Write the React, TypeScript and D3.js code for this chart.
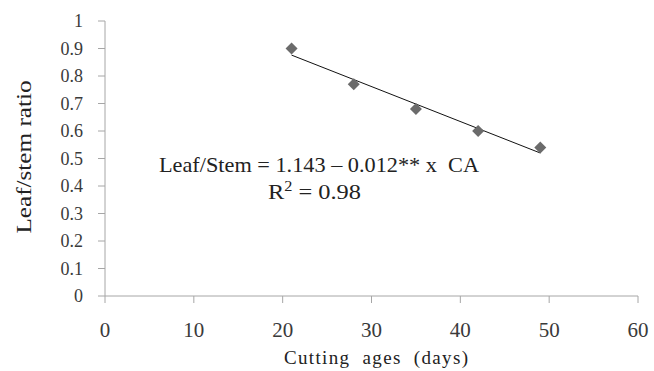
import React from "react";
import * as d3 from "d3";

const cuttingAges = [21, 28, 35, 42, 49];
const leafStemRatio = [0.9, 0.77, 0.68, 0.6, 0.54];
const xTicks = [0, 10, 20, 30, 40, 50, 60];
const yTicks = [0, 0.1, 0.2, 0.3, 0.4, 0.5, 0.6, 0.7, 0.8, 0.9, 1];
const yTickLabels = ["0", "0.1", "0.2", "0.3", "0.4", "0.5", "0.6", "0.7", "0.8", "0.9", "1"];
const xTitle = "Cutting  ages  (days)";
const yTitle = "Leaf/stem ratio";
const equationText = "Leaf/Stem = 1.143 \u2013 0.012** x  CA";
const r2Value = "0.98";

const W = 654;
const H = 371;
const FONT = "Liberation Serif";

export default function App() {
  const x = d3.scaleLinear().domain([0, 60]).range([105, 638]);
  const y = d3.scaleLinear().domain([0, 1]).range([296, 21]);

  // least squares fit
  const mx = d3.mean(cuttingAges) as number;
  const my = d3.mean(leafStemRatio) as number;
  let sxy = 0;
  let sxx = 0;
  cuttingAges.forEach((a, i) => {
    sxy += (a - mx) * (leafStemRatio[i] - my);
    sxx += (a - mx) * (a - mx);
  });
  const slope = sxy / sxx;
  const intercept = my - slope * mx;
  const x0 = d3.min(cuttingAges) as number;
  const x1 = d3.max(cuttingAges) as number;
  const line = d3
    .line<number>()
    .x((d) => x(d))
    .y((d) => y(intercept + slope * d));

  const square = d3.symbol().type(d3.symbolSquare).size(72)() as string;

  const axisColor = "#a6a6a6";
  const textColor = "#3a3a3a";
  const ts = { fontFamily: FONT };

  return (
    <svg
      width={W}
      height={H}
      style={{ position: "absolute", left: 0, top: 0, background: "#fff" }}
    >
      <rect x={0} y={0} width={W} height={H} fill="#fff" />
      {/* y axis */}
      <line x1={x(0)} x2={x(0)} y1={y(0)} y2={y(1)} stroke={axisColor} strokeWidth={1} />
      {yTicks.map((t, i) => (
        <g key={"yt" + i}>
          <line x1={x(0) - 7} x2={x(0)} y1={y(t)} y2={y(t)} stroke={axisColor} strokeWidth={1} />
          <text
            x={83}
            y={y(t)}
            dy="0.36em"
            textAnchor="end"
            fontSize={18}
            fill={textColor}
            style={ts}
          >
            {yTickLabels[i]}
          </text>
        </g>
      ))}
      {/* x axis */}
      <line x1={x(0)} x2={x(60)} y1={y(0)} y2={y(0)} stroke={axisColor} strokeWidth={1} />
      {xTicks.map((t, i) => (
        <g key={"xt" + i}>
          <line x1={x(t)} x2={x(t)} y1={y(0)} y2={y(0) + 7} stroke={axisColor} strokeWidth={1} />
          <text x={x(t)} y={337} textAnchor="middle" fontSize={21} fill={textColor} style={ts}>
            {String(t)}
          </text>
        </g>
      ))}
      {/* titles */}
      <text
        x={376}
        y={364}
        textAnchor="middle"
        fontSize={19}
        fill="#222"
        textLength={184}
        lengthAdjust="spacing"
        style={{ whiteSpace: "pre", fontFamily: FONT }}
      >
        {xTitle}
      </text>
      <text
        transform={`translate(31,157) rotate(-90)`}
        textAnchor="middle"
        fontSize={21}
        fill="#222"
        textLength={153}
        lengthAdjust="spacingAndGlyphs"
        style={ts}
      >
        {yTitle}
      </text>
      {/* trend line */}
      <path d={line([x0, x1]) as string} fill="none" stroke="#111" strokeWidth={1} />
      {/* markers */}
      {cuttingAges.map((a, i) => (
        <path
          key={"m" + i}
          d={square}
          transform={`translate(${x(a)},${y(leafStemRatio[i])}) rotate(45)`}
          fill="#6b6b6b"
        />
      ))}
      {/* equation */}
      <text
        x={159}
        y={172}
        fontSize={21}
        fill="#222"
        textLength={320}
        lengthAdjust="spacingAndGlyphs"
        style={{ whiteSpace: "pre", fontFamily: FONT }}
      >
        {equationText}
      </text>
      <text
        x={268}
        y={199}
        fontSize={21}
        fill="#222"
        style={ts}
        textLength={93}
        lengthAdjust="spacingAndGlyphs"
      >
        R
        <tspan fontSize={14} dy={-8}>
          2
        </tspan>
        <tspan dy={8}>{" = " + r2Value}</tspan>
      </text>
    </svg>
  );
}
